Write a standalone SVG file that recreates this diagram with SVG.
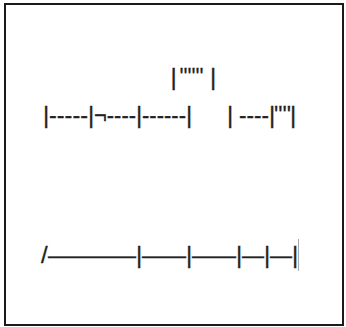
<svg xmlns="http://www.w3.org/2000/svg" width="346" height="327" viewBox="0 0 346 327">
<style>
.t{font-family:"Liberation Sans",Arial,sans-serif;font-size:24px;fill:#222;stroke:#222;stroke-width:0.3}
</style>
<rect x="0" y="0" width="346" height="327" fill="#fff"/>
<rect x="5" y="4" width="338" height="321" fill="none" stroke="#1a1a1a" stroke-width="2"/>
<g id="line1">
<text class="t" y="85"><tspan x="170.5">|</tspan><tspan x="179.5" textLength="24" lengthAdjust="spacingAndGlyphs">''''''</tspan><tspan x="210">|</tspan></text>
</g>
<g id="line2">
<text class="t" y="123"><tspan x="43">|</tspan><tspan x="49" textLength="39" lengthAdjust="spacingAndGlyphs">-----</tspan><tspan x="88">|</tspan><tspan x="94" textLength="42" lengthAdjust="spacingAndGlyphs">¬----</tspan><tspan x="136">|</tspan><tspan x="142" textLength="44" lengthAdjust="spacingAndGlyphs">------</tspan><tspan x="186">|</tspan></text>
<text class="t" y="123"><tspan x="227">|</tspan><tspan x="239" textLength="30" lengthAdjust="spacingAndGlyphs">----</tspan><tspan x="269">|</tspan><tspan x="274" textLength="17" lengthAdjust="spacingAndGlyphs">''''</tspan><tspan x="290">|</tspan></text>
</g>
<g id="line3">
<text class="t" y="263"><tspan x="41">/</tspan><tspan x="48" textLength="88" lengthAdjust="spacingAndGlyphs">————</tspan><tspan x="136">|</tspan><tspan x="142" textLength="44" lengthAdjust="spacingAndGlyphs">——</tspan><tspan x="186">|</tspan><tspan x="192" textLength="44" lengthAdjust="spacingAndGlyphs">——</tspan><tspan x="236">|</tspan><tspan x="242" textLength="22" lengthAdjust="spacingAndGlyphs">—</tspan><tspan x="264">|</tspan><tspan x="270" textLength="22" lengthAdjust="spacingAndGlyphs">—</tspan><tspan x="292">|</tspan></text>
</g>
<line x1="298.5" y1="239" x2="298.5" y2="271" stroke="#aaa" stroke-width="1"/>
</svg>
